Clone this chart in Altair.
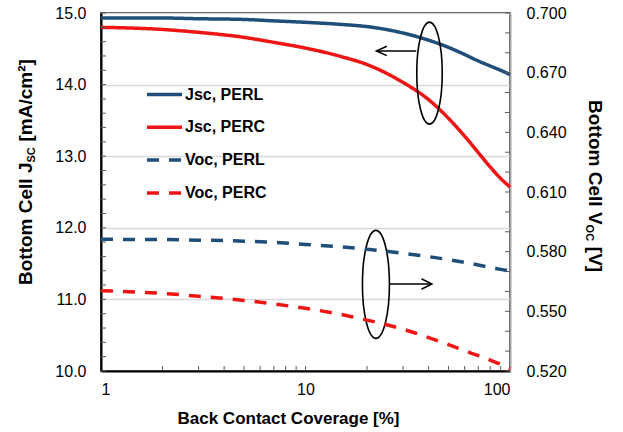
import altair as alt
import pandas as pd

# ---------------- data ----------------
coverage = [1, 2, 3, 5, 7, 10, 15, 20, 30, 40, 50, 60, 70, 80, 90, 100]
jsc_perl = [14.93, 14.93, 14.92, 14.91, 14.89, 14.87, 14.84, 14.81, 14.72, 14.62, 14.52, 14.42, 14.33, 14.26, 14.20, 14.14]
jsc_perc = [14.80, 14.77, 14.73, 14.66, 14.59, 14.51, 14.39, 14.28, 14.03, 13.79, 13.53, 13.28, 13.05, 12.85, 12.69, 12.57]
voc_perl = [0.5862, 0.5861, 0.5858, 0.5853, 0.5847, 0.5836, 0.5824, 0.5812, 0.5792, 0.5775, 0.5760, 0.5746, 0.5733, 0.5721, 0.5711, 0.5702]
voc_perc = [0.5604, 0.5590, 0.5576, 0.5555, 0.5537, 0.5515, 0.5484, 0.5456, 0.5410, 0.5368, 0.5333, 0.5302, 0.5277, 0.5255, 0.5234, 0.5212]

series_names = ["Jsc, PERL", "Jsc, PERC", "Voc, PERL", "Voc, PERC"]
series_colors = ["#1f4e79", "#f01515", "#1f4e79", "#f01515"]
series_dashes = [[1, 0], [1, 0], [12, 10], [12, 10]]

jsc_ticks = [10.0, 11.0, 12.0, 13.0, 14.0, 15.0]
voc_ticks = [0.52, 0.55, 0.58, 0.61, 0.64, 0.67, 0.70]
x_ticks = [1, 10, 100]
jsc_minor = [round(10 + 0.2 * i, 1) for i in range(26)]
voc_minor = [round(0.52 + 0.01 * i, 2) for i in range(19)]
x_minor = [2, 3, 4, 5, 6, 7, 8, 9, 10, 20, 30, 40, 50, 60, 70, 80, 90]

# annotation anchors (data coordinates)
ell_x = [40.4, 22.1]
ell_y = [14.16, 11.21]
ell_size = [102 * 102, 108 * 108]
arrow_left = {"x": 22.2, "x2": 34.8, "y": 14.47}
arrow_right = {"x": 25.8, "x2": 41.5, "y": 11.215}

W, H = 409, 358
FONT = "Liberation Sans"

jsc_df = pd.DataFrame({
    "x": coverage * 2,
    "y": jsc_perl + jsc_perc,
    "series": ["Jsc, PERL"] * len(coverage) + ["Jsc, PERC"] * len(coverage),
})
voc_df = pd.DataFrame({
    "x": coverage * 2,
    "y": voc_perl + voc_perc,
    "series": ["Voc, PERL"] * len(coverage) + ["Voc, PERC"] * len(coverage),
})

x_scale = alt.Scale(type="log", domain=[1, 100], nice=False)
jsc_scale = alt.Scale(domain=[10, 15], nice=False, zero=False)
voc_scale = alt.Scale(domain=[0.52, 0.70], nice=False, zero=False)

legend_spec = alt.Legend(
    title=None, orient="none", legendX=44, legendY=62,
    symbolType="stroke", symbolStrokeWidth=3.5, symbolSize=1225,
    labelFont=FONT, labelFontSize=16, labelFontWeight="bold", labelColor="#000000",
    labelOffset=1, rowPadding=4.8, padding=0,
)
color_enc = alt.Color("series:N", scale=alt.Scale(domain=series_names, range=series_colors), legend=legend_spec)
dash_enc = alt.StrokeDash("series:N", scale=alt.Scale(domain=series_names, range=series_dashes), legend=legend_spec)

x_axis = alt.Axis(
    values=x_ticks, format="d", grid=False, ticks=False, tickSize=0,
    labelFont=FONT, labelFontSize=16, labelColor="#000000", labelPadding=10,
    domainColor="#000000", domainWidth=2,
    title="Back Contact Coverage [%]", titleFont=FONT, titleFontSize=17, titleFontWeight="bold",
    titleColor="#000000", titleX=187, titleY=47, titleBaseline="middle",
)

jsc_lines = alt.Chart(jsc_df).mark_line(strokeWidth=3.5, interpolate="monotone").encode(
    x=alt.X("x:Q", scale=x_scale, axis=x_axis),
    y=alt.Y("y:Q", scale=jsc_scale, axis=alt.Axis(
        orient="left", values=jsc_ticks, format=".1f", grid=True, gridColor="#d9d9d9", gridWidth=1.5,
        ticks=False, tickSize=0, labelFont=FONT, labelFontSize=16, labelColor="#000000", labelPadding=15,
        domainColor="#000000", domainWidth=2, title=None,
    )),
    color=color_enc,
    strokeDash=dash_enc,
    detail="series:N",
)

voc_lines = alt.Chart(voc_df).mark_line(strokeWidth=3.5, interpolate="monotone").encode(
    x=alt.X("x:Q", scale=x_scale),
    y=alt.Y("y:Q", scale=voc_scale, axis=alt.Axis(
        orient="right", values=voc_ticks, format=".3f", grid=False,
        ticks=False, tickSize=0, labelFont=FONT, labelFontSize=16, labelColor="#000000", labelPadding=16,
        domainColor="#a6a6a6", domainWidth=2, title=None,
    )),
    color=color_enc,
    strokeDash=dash_enc,
    detail="series:N",
)

tick_color = "#595959"
left_minor = alt.Chart(pd.DataFrame({"y": jsc_minor})).mark_rule(color=tick_color, strokeWidth=1).encode(
    y=alt.Y("y:Q", scale=jsc_scale), x=alt.value(0), x2=alt.value(5)
)
bottom_minor = alt.Chart(pd.DataFrame({"x": x_minor})).mark_rule(color=tick_color, strokeWidth=1).encode(
    x=alt.X("x:Q", scale=x_scale), y=alt.value(H), y2=alt.value(H - 5)
)
right_minor = alt.Chart(pd.DataFrame({"y": voc_minor})).mark_rule(color=tick_color, strokeWidth=1).encode(
    y=alt.Y("y:Q", scale=voc_scale), x=alt.value(W), x2=alt.value(W - 5)
)

ellipse_path = ("M0,-1 C0.138,-1 0.25,-0.552 0.25,0 C0.25,0.552 0.138,1 0,1 "
                "C-0.138,1 -0.25,0.552 -0.25,0 C-0.25,-0.552 -0.138,-1 0,-1 Z")
ellipses = alt.Chart(pd.DataFrame({"x": ell_x, "y": ell_y, "s": ell_size})).mark_point(
    shape=ellipse_path, filled=False, color="#000000", strokeWidth=1.6, opacity=1
).encode(
    x=alt.X("x:Q", scale=x_scale),
    y=alt.Y("y:Q", scale=jsc_scale),
    size=alt.Size("s:Q", scale=None, legend=None),
)

arrow_df = pd.DataFrame([arrow_left, arrow_right])
shafts = alt.Chart(arrow_df).mark_rule(color="#000000", strokeWidth=1.5).encode(
    x=alt.X("x:Q", scale=x_scale),
    x2="x2:Q",
    y=alt.Y("y:Q", scale=jsc_scale),
)
head_left = alt.Chart(pd.DataFrame([arrow_left])).mark_point(
    shape="M1,-0.45 L0,0 L1,0.45", filled=False, color="#000000", strokeWidth=1.5, size=441, opacity=1
).encode(x=alt.X("x:Q", scale=x_scale), y=alt.Y("y:Q", scale=jsc_scale))
head_right = alt.Chart(pd.DataFrame({"x": [arrow_right["x2"]], "y": [arrow_right["y"]]})).mark_point(
    shape="M-1,-0.5 L0,0 L-1,0.5", filled=False, color="#000000", strokeWidth=1.5, size=441, opacity=1
).encode(x=alt.X("x:Q", scale=x_scale), y=alt.Y("y:Q", scale=jsc_scale))

one = pd.DataFrame({"a": [0]})


def piece(text, x, y, size, angle):
    return alt.Chart(one).mark_text(
        text=text, font=FONT, fontSize=size, fontWeight="bold", color="#000000",
        angle=angle, align="left", baseline="middle",
    ).encode(x=alt.value(x), y=alt.value(y))


# left axis title: Bottom Cell J_SC [mA/cm²]
lt1 = piece("Bottom Cell J", -75, 272, 19, 270)
lt2 = piece("SC", -69, 149.5, 11, 270)
lt3 = piece("[mA/cm²]", -75, 128.5, 19, 270)
# right axis title: Bottom Cell V_OC [V]
rt1 = piece("Bottom Cell V", 494, 87, 19, 90)
rt2 = piece("OC", 488, 211.6, 11, 90)
rt3 = piece("[V]", 494, 233.8, 19, 90)

jsc_group = alt.layer(
    jsc_lines, left_minor, bottom_minor, ellipses, shafts, head_left, head_right,
    lt1, lt2, lt3, rt1, rt2, rt3,
)
voc_group = alt.layer(voc_lines, right_minor)

chart = alt.layer(jsc_group, voc_group).resolve_scale(y="independent").properties(
    width=W, height=H,
    padding={"left": 101, "top": 13, "right": 113, "bottom": 61},
    autosize=alt.AutoSizeParams(type="none"),
    background="#ffffff",
).configure_view(stroke="#000000", strokeWidth=1.5)

chart.save("out.html", embed_options={"renderer": "svg", "actions": False})
